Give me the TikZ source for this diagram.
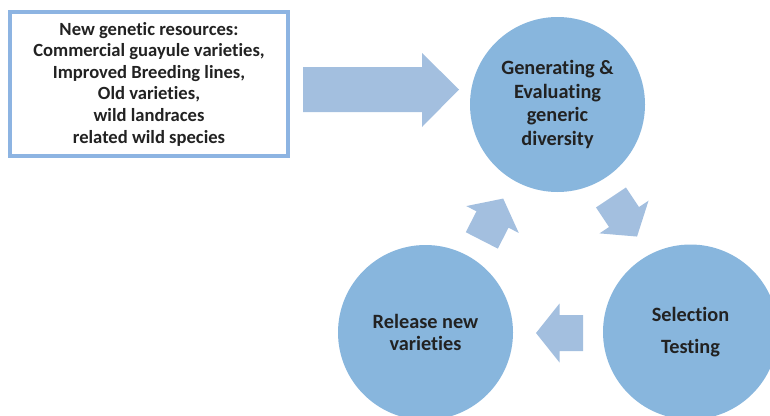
\documentclass[tikz,border=0pt]{standalone}
\usepackage{fontspec}
\setmainfont[Ligatures={NoCommon}]{Carlito}
\definecolor{circfill}{RGB}{136,182,221}
\definecolor{arrfill}{RGB}{163,191,223}
\definecolor{boxline}{RGB}{141,180,226}
\definecolor{txt}{RGB}{34,34,34}
\tikzset{
  stage/.style={circle, fill=circfill, draw=none, minimum size=175pt, inner sep=0pt, align=center, text=txt, font=\bfseries\fontsize{20.3}{23.5}\selectfont},
  srcbox/.style={draw=boxline, line width=4pt, fill=white, minimum width=278pt, minimum height=144pt, align=center, text=txt, font=\bfseries\fontsize{18.6}{21.6}\selectfont},
  arrfillstyle/.style={fill=arrfill, draw=none}
}
\begin{document}
\begin{tikzpicture}[x=1pt,y=-1pt]
\useasboundingbox (0,0) rectangle (770,415);
\clip (0,0) rectangle (770,415);
% source box
\node[srcbox] (src) at (149,84) {New genetic resources:\\Commercial guayule varieties,\\Improved Breeding lines,\\Old varieties,\\wild landraces\\related wild species};
% circles
\node[stage] (gen) at (557.5,104.5) {Generating \&\\Evaluating\\generic\\diversity};
\node[stage, font=\bfseries\fontsize{20.3}{32}\selectfont] (sel) at (690.5,332) {Selection\\Testing};
\node[stage, font=\bfseries\fontsize{20.3}{22.5}\selectfont] (rel) at (425.5,332.5) {Release new\\varieties};
% big arrow from box to top circle
\coordinate (bigback) at (303,89.5);
\coordinate (bigtip) at (459,89.5);
\fill[arrfillstyle] (bigback) ++(0,-22.5) -- (422,67) -- (422,53) -- (bigtip) -- (422,127) -- (422,112) -- (303,112) -- cycle;
% small cycle arrows
\coordinate (a1) at (624,217);
\coordinate (a2) at (559.5,333);
\coordinate (a3) at (492.5,219.5);
\fill[arrfillstyle, shift={(a1)}, rotate=-56.3] (-23.5,-18) -- (0,-18) -- (0,-29.5) -- (23.5,0) -- (0,29.5) -- (0,18) -- (-23.5,18) -- cycle;
\fill[arrfillstyle, shift={(a2)}, rotate=180] (-23.5,-18) -- (0,-18) -- (0,-29.5) -- (23.5,0) -- (0,29.5) -- (0,18) -- (-23.5,18) -- cycle;
\fill[arrfillstyle, shift={(a3)}, rotate=62.9] (-23.5,-18) -- (0,-18) -- (0,-29.5) -- (23.5,0) -- (0,29.5) -- (0,18) -- (-23.5,18) -- cycle;
\end{tikzpicture}
\end{document}
